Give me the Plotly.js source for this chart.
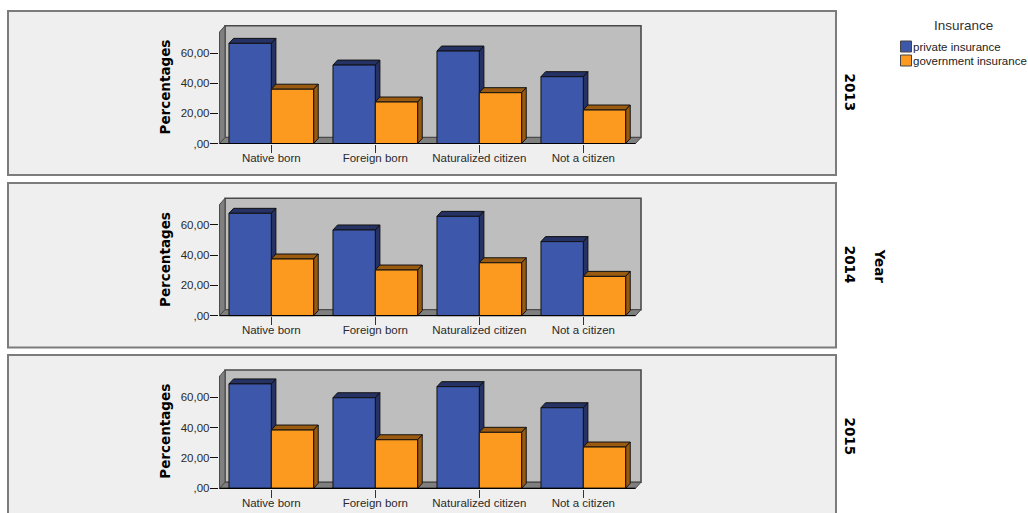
<!DOCTYPE html>
<html>
<head>
<meta charset="utf-8">
<script src="https://cdn.plot.ly/plotly-3.0.1.min.js"></script>
<style>html,body{margin:0;padding:0;background:#fff;overflow:hidden}</style>
</head>
<body>
<div id="chart" style="width:1028px;height:513px"></div>
<script>
// Insurance coverage by nativity, one 3D-styled bar panel per year.
const years = ['2013', '2014', '2015'];
const categories = ['Native born', 'Foreign born', 'Naturalized citizen', 'Not a citizen'];
const seriesNames = ['private insurance', 'government insurance'];
const tickValues = [0, 20, 40, 60];
const tickLabels = [',00', '20,00', '40,00', '60,00'];
const privateInsurance = [
  [66.4, 52.0, 61.3, 44.3],
  [67.7, 56.7, 65.7, 49.0],
  [68.8, 59.7, 67.0, 53.1]
];
const governmentInsurance = [
  [36.0, 27.5, 33.7, 22.2],
  [37.5, 30.2, 35.0, 26.0],
  [38.4, 32.0, 36.9, 27.2]
];

// Page geometry of each panel, in pixels.
const W = 1028, H = 513;
const panelBoxes = [[11, 175], [183, 347.5], [355, 525]];
const floorPx = [143.5, 315.7, 488.3];
const wallTopPx = [25.7, 198.3, 370];
const pxPerUnit = [1.508, 1.512, 1.517];
const titleCenterPx = [87.5, 260, 431.7];
const catCenterPx = 271.3, catStepPx = 104;
const barFrac = 0.407;

const blue = '#3d58ab', blueDark = '#253263';
const orange = '#fb9a1e', orangeDark = '#9a5b10';
const ink = '#111111', wallGray = '#bebebe', sideGray = '#7f7f7f', wallEdge = '#4a4a4a';
const textCol = '#2a2a2a';

const px = x => x / W;
const py = y => 1 - y / H;

const traces = [], shapes = [], annotations = [];
const layout = {
  width: W, height: H,
  margin: {l: 0, r: 0, t: 0, b: 0},
  paper_bgcolor: '#ffffff', plot_bgcolor: 'rgba(0,0,0,0)',
  showlegend: false, barmode: 'group', bargap: 0.186, bargroupgap: 0,
  font: {family: 'Liberation Sans, Arial, sans-serif', size: 11, color: textCol}
};

function poly(points, xref, yref, fill, line, width) {
  const path = points.map((p, i) => (i ? 'L' : 'M') + p[0] + ',' + p[1]).join(' ') + ' Z';
  return {type: 'path', path, xref, yref, layer: 'below', fillcolor: fill,
          line: {color: line, width: width}};
}

years.forEach((year, i) => {
  const sfx = i === 0 ? '' : String(i + 1);
  const xref = 'x' + sfx, yref = 'y' + sfx;
  const s = pxPerUnit[i], z = floorPx[i];

  // Plot rectangle leaves a small pad so the outline strokes are not clipped.
  const leftPx = 218.8, rightPx = 643, topPx = wallTopPx[i] - 2, botPx = z + 0.7;
  const xAt = p => (p - catCenterPx) / catStepPx;
  const yAt = p => (z - p) / s;

  // Panel background.
  shapes.push({type: 'rect', xref: 'paper', yref: 'paper',
    x0: px(8), x1: px(836), y0: py(panelBoxes[i][0]), y1: py(panelBoxes[i][1]),
    layer: 'below', fillcolor: '#efefef', line: {color: '#7c7c7c', width: 2}});

  // Back wall, side wall and floor of the box.
  const fx0 = xAt(219.5), fx1 = xAt(635.5), bx0 = xAt(225), bx1 = xAt(641);
  const by0 = yAt(z - 6), fTop = yAt(wallTopPx[i] + 6.3), bTop = yAt(wallTopPx[i]);
  shapes.push(poly([[bx0, by0], [bx1, by0], [bx1, bTop], [bx0, bTop]], xref, yref, wallGray, wallEdge, 1.6));
  shapes.push(poly([[fx0, 0], [bx0, by0], [bx1, by0], [fx1, 0]], xref, yref, sideGray, wallEdge, 1));
  shapes.push(poly([[fx0, 0], [bx0, by0], [bx0, bTop], [fx0, fTop]], xref, yref, sideGray, wallEdge, 1));

  // Depth faces of the bars, blue first so the orange faces overlap them.
  const dx = 4.6 / catStepPx, dy = 5 / s;
  [[privateInsurance[i], -barFrac, blueDark], [governmentInsurance[i], 0, orangeDark]].forEach(([vals, off, col]) => {
    vals.forEach((v, c) => {
      const l = c + off, r = l + barFrac;
      shapes.push(poly([[l, v], [l + dx, v + dy], [r + dx, v + dy], [r, v]], xref, yref, col, ink, 1));
      shapes.push(poly([[r, v], [r + dx, v + dy], [r + dx, dy], [r, 0]], xref, yref, col, ink, 1));
    });
  });

  // Front edges of the axes.
  shapes.push({type: 'line', xref, yref, x0: fx0, x1: fx1, y0: 0, y1: 0, line: {color: '#000', width: 1.2}});
  shapes.push({type: 'line', xref, yref, x0: fx0, x1: fx0, y0: 0, y1: fTop, line: {color: wallEdge, width: 1}});

  const xs = categories.map((_, c) => c);
  traces.push({type: 'bar', name: seriesNames[0], x: xs, y: privateInsurance[i], xaxis: xref, yaxis: yref,
    marker: {color: blue, line: {color: ink, width: 1}}});
  traces.push({type: 'bar', name: seriesNames[1], x: xs, y: governmentInsurance[i], xaxis: xref, yaxis: yref,
    marker: {color: orange, line: {color: ink, width: 1}}});

  layout['xaxis' + sfx] = {
    domain: [px(leftPx), px(rightPx)], range: [xAt(leftPx), xAt(rightPx)], anchor: yref,
    tickmode: 'array', tickvals: xs, ticktext: categories,
    ticks: 'outside', ticklen: 8, tickwidth: 1, tickcolor: '#333',
    ticklabelstandoff: -5,
    showgrid: false, zeroline: false, showline: false, fixedrange: true,
    tickfont: {family: 'Liberation Sans, Arial, sans-serif', size: 11.5, color: textCol}
  };
  layout['yaxis' + sfx] = {
    domain: [py(botPx), py(topPx)], range: [yAt(botPx), yAt(topPx)], anchor: xref,
    tickmode: 'array', tickvals: tickValues, ticktext: tickLabels,
    ticks: 'outside', ticklen: 8, tickwidth: 1, tickcolor: '#111',
    ticklabelstandoff: -2,
    showgrid: false, zeroline: false, showline: false, fixedrange: true,
    tickfont: {family: 'Liberation Sans, Arial, sans-serif', size: 11.5, color: textCol}
  };

  // Rotated value-axis title, set beside the tick labels of each panel.
  annotations.push({xref: 'paper', yref: 'paper', x: px(165), y: py(titleCenterPx[i]),
    text: '<b>Percentages</b>', textangle: -90, showarrow: false, xanchor: 'center', yanchor: 'middle',
    font: {family: 'DejaVu Sans, sans-serif', size: 13.5, color: '#000'}});

  // Year label beside each panel.
  annotations.push({xref: 'paper', yref: 'paper', x: px(850), y: py((panelBoxes[i][0] + Math.min(panelBoxes[i][1], 519)) / 2 - 0.5),
    text: '<b>' + year + '</b>', textangle: 90, showarrow: false, xanchor: 'center', yanchor: 'middle',
    font: {family: 'DejaVu Sans, sans-serif', size: 13.5, color: '#000'}});
});

annotations.push({xref: 'paper', yref: 'paper', x: px(880), y: py(265.5),
  text: '<b>Year</b>', textangle: 90, showarrow: false, xanchor: 'center', yanchor: 'middle',
  font: {family: 'DejaVu Sans, sans-serif', size: 13.5, color: '#000'}});

// Legend block at the upper right.
annotations.push({xref: 'paper', yref: 'paper', x: px(963.5), y: py(25), text: 'Insurance',
  showarrow: false, xanchor: 'center', yanchor: 'middle',
  font: {family: 'Liberation Sans, Arial, sans-serif', size: 13.5, color: '#333'}});
[[46.5, blue], [60.5, orange]].forEach(([cy, col], k) => {
  shapes.push({type: 'rect', xref: 'paper', yref: 'paper', x0: px(900.5), x1: px(911.5), y0: py(cy - 5.5), y1: py(cy + 5.5),
    fillcolor: col, line: {color: '#444', width: 1}});
  annotations.push({xref: 'paper', yref: 'paper', x: px(911.5), y: py(cy), text: seriesNames[k],
    showarrow: false, xanchor: 'left', yanchor: 'middle', xshift: 0, borderpad: 0,
    font: {family: 'Liberation Sans, Arial, sans-serif', size: 11.5, color: '#222'}});
});

layout.shapes = shapes;
layout.annotations = annotations;
Plotly.newPlot('chart', traces, layout, {displayModeBar: false, staticPlot: true});
</script>
</body>
</html>
